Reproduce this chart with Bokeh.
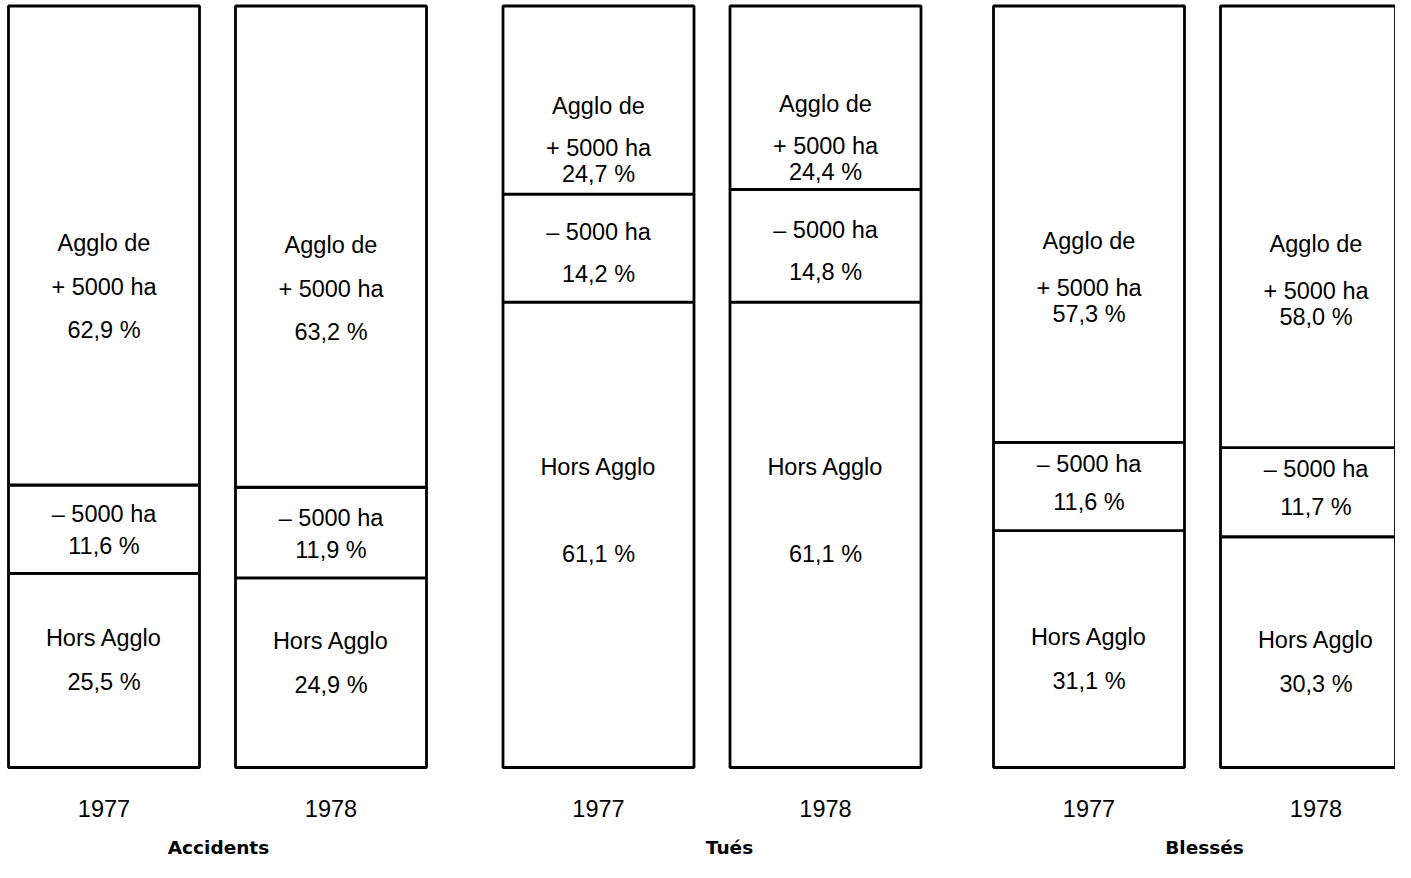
from bokeh.plotting import figure
from bokeh.models import ColumnDataSource, Range1d
from bokeh.core.properties import value
from bokeh.embed import file_html
from bokeh.resources import INLINE

# ---- data ----
groups = ["Accidents", "Tués", "Blessés"]
years = ["1977", "1978"]
hors_agglo = [25.5, 24.9, 61.1, 61.1, 31.1, 30.3]       # bottom segment
moins_5000 = [11.6, 11.9, 14.2, 14.8, 11.6, 11.7]       # middle segment
plus_5000 = [62.9, 63.2, 24.7, 24.4, 57.3, 58.0]        # top segment
hors_lbl = ["25,5 %", "24,9 %", "61,1 %", "61,1 %", "31,1 %", "30,3 %"]
moins_lbl = ["11,6 %", "11,9 %", "14,2 %", "14,8 %", "11,6 %", "11,7 %"]
plus_lbl = ["62,9 %", "63,2 %", "24,7 %", "24,4 %", "57,3 %", "58,0 %"]

# ---- layout (reference-pixel frame) ----
W, H = 1395, 862
PX_PER_PCT = 7.615
BASE_PX = 772.0
group_x = [221.0, 715.5, 1206.0]
half_gap = 113.5
bar_w = 191
# label line offsets (screen px, relative to segment middle), per group
off_hors = [[-32, 12], [-68, 19], [-12, 32]]
off_moins = [[-15, 17], [-16, 26], [-23, 15]]
off_plus = [[-2, 42, 85], [6, 48, 74], [17, 64, 90]]

def py2d(py):
    return (BASE_PX - py) / PX_PER_PCT

p = figure(width=W, height=H, output_backend="svg", toolbar_location=None,
           x_range=Range1d(4, 4 + W), y_range=Range1d(py2d(5 + H), py2d(5)),
           min_border=0, outline_line_color=None, background_fill_color="white",
           border_fill_color="white")
p.axis.visible = False
p.grid.visible = False

xs, bottoms, tops = [], [], []
tx, ty, tt = [], [], []
FONT = value("Liberation Sans")

for i in range(6):
    g = i // 2
    x = group_x[g] + (-half_gap if i % 2 == 0 else half_gap)
    h, m, pl = hors_agglo[i], moins_5000[i], plus_5000[i]
    segs = [(0, h), (h, h + m), (h + m, 100.0)]
    for b, t in segs:
        xs.append(x); bottoms.append(b); tops.append(t)
    lines = [
        (segs[0], ["Hors Agglo", hors_lbl[i]], off_hors[g]),
        (segs[1], ["– 5000 ha", moins_lbl[i]], off_moins[g]),
        (segs[2], ["Agglo de", "+ 5000 ha", plus_lbl[i]], off_plus[g]),
    ]
    for (b, t), texts, offs in lines:
        mid = (b + t) / 2.0
        for s, o in zip(texts, offs):
            tx.append(x); ty.append(mid - o / PX_PER_PCT); tt.append(s)
    # year label
    tx.append(x); ty.append(py2d(813)); tt.append(years[i % 2])

src = ColumnDataSource(dict(x=xs, bottom=bottoms, top=tops))
p.vbar(x="x", width=bar_w, bottom="bottom", top="top", source=src,
       fill_color="white", line_color="black", line_width=2.8)

tsrc = ColumnDataSource(dict(x=tx, y=ty, text=tt))
p.text(x="x", y="y", text="text", source=tsrc, text_font=FONT,
       text_font_size="23.5px", text_align="center", text_baseline="middle",
       text_color="black")

gsrc = ColumnDataSource(dict(x=[222, 733, 1208], y=[py2d(852)] * 3, text=groups))
p.text(x="x", y="y", text="text", source=gsrc, text_font=value("DejaVu Sans"),
       text_font_size="18.5px", text_font_style="bold", text_align="center",
       text_baseline="middle", text_color="black")

open("out.html", "w").write(file_html(p, INLINE))
